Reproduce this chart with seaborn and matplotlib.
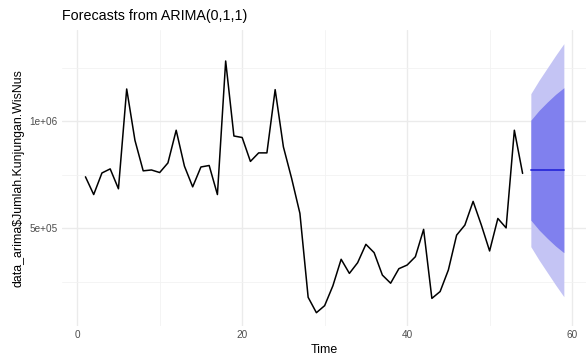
import numpy as np
import pandas as pd
import seaborn as sns
import matplotlib
matplotlib.use("Agg")
import matplotlib.pyplot as plt
from matplotlib.ticker import FixedLocator

# data observasi
waktu = list(range(1, 55))
kunjungan = [740e3, 657e3, 758e3, 777e3, 684e3, 1151e3, 911e3, 768e3, 772e3, 760e3,
             805e3, 958e3, 790e3, 693e3, 786e3, 793e3, 657e3, 1282e3, 931e3, 924e3,
             812e3, 852e3, 852e3, 1148e3, 880e3, 732e3, 569e3, 176e3, 104e3, 137e3,
             230e3, 354e3, 288e3, 338e3, 424e3, 385e3, 280e3, 242e3, 310e3, 327e3,
             366e3, 494e3, 171e3, 203e3, 304e3, 467e3, 514e3, 625e3, 514e3, 393e3,
             545e3, 501e3, 958e3, 756e3]

# hasil forecast
waktu_fc = [55, 56, 57, 58, 59]
mean_fc = [771e3, 771e3, 771e3, 771e3, 771e3]
lo80 = [537e3, 491e3, 452e3, 416e3, 385e3]
hi80 = [1005e3, 1051e3, 1090e3, 1126e3, 1157e3]
lo95 = [413e3, 350e3, 292e3, 234e3, 179e3]
hi95 = [1129e3, 1192e3, 1250e3, 1308e3, 1363e3]

df = pd.DataFrame({"Time": waktu, "nilai": kunjungan})
df_fc = pd.DataFrame({"Time": waktu_fc, "mean": mean_fc,
                      "lo80": lo80, "hi80": hi80, "lo95": lo95, "hi95": hi95})

sns.set_theme(style="white")
plt.rcParams["font.family"] = ["Liberation Sans", "DejaVu Sans"]

fig = plt.figure(figsize=(5.86, 3.6), dpi=100)
ax = fig.add_axes([0.105, 0.094, 0.898, 0.822])

# grid ala theme_minimal
ax.set_axisbelow(True)
ax.xaxis.set_major_locator(FixedLocator([0, 20, 40, 60]))
ax.xaxis.set_minor_locator(FixedLocator([10, 30, 50]))
ax.yaxis.set_major_locator(FixedLocator([5e5, 1e6]))
ax.yaxis.set_minor_locator(FixedLocator([2.5e5, 7.5e5, 1.25e6]))
ax.grid(which="major", color="#ebebeb", linewidth=1.0)
ax.grid(which="minor", color="#f2f2f2", linewidth=0.6)

# interval prediksi
ax.fill_between(df_fc["Time"], df_fc["lo95"], df_fc["hi95"], color="#c4c4f4", linewidth=0)
ax.fill_between(df_fc["Time"], df_fc["lo80"], df_fc["hi80"], color="#8080ee", linewidth=0)

sns.lineplot(data=df, x="Time", y="nilai", color="black", linewidth=1.1, ax=ax)
sns.lineplot(data=df_fc, x="Time", y="mean", color="#2a2ad8", linewidth=1.3, ax=ax)

ax.set_xlim(-1.9, 61.9)
ax.set_ylim(41e3, 1426e3)
ax.set_yticklabels(["5e+05", "1e+06"])
ax.set_xticklabels(["0", "20", "40", "60"])
ax.tick_params(axis="both", which="both", length=0, labelsize=7.2, labelcolor="#4d4d4d", pad=3)

for s in ax.spines.values():
    s.set_visible(False)

ax.set_xlabel("Time", fontsize=8.9, color="black", labelpad=3)
ax.set_ylabel("data_arima\\$Jumlah.Kunjungan.WisNus", fontsize=8.9, color="black", labelpad=3)
fig.text(0.106, 0.935, "Forecasts from ARIMA(0,1,1)", fontsize=10.3, color="black",
         ha="left", va="bottom")

fig.savefig("out.png", dpi=100)
